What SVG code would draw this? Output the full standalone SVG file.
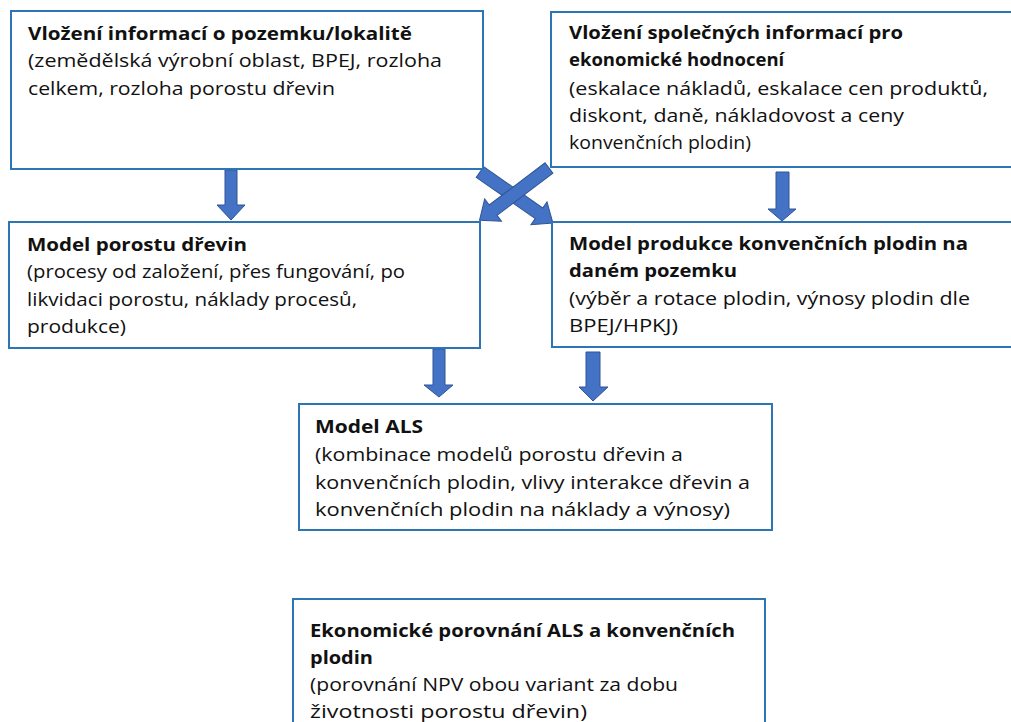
<svg xmlns="http://www.w3.org/2000/svg" width="1011" height="722" viewBox="0 0 1011 722">
<defs>
<style>
.box{fill:#ffffff;stroke:#2E75B6;stroke-width:2}
.arr{fill:#4472C4;stroke:#2F5597;stroke-width:1}
text{font-family:"Open Sans","Noto Sans","Liberation Sans",sans-serif;font-size:18.5px;fill:#111111}
.b{font-weight:700}
</style>
</defs>
<rect width="1011" height="722" fill="#ffffff"/>

<g id="connectors">
<polygon class="arr" points="225,170 237,170 237,205 245,205 231,220 217,205 225,205"/>
<polygon class="arr" points="776,172 789,172 789,209 796,209 782,221 768,209 776,209"/>
<polygon class="arr" points="433,349 445,349 445,385 453,385 439,397 424,385 433,385"/>
<polygon class="arr" points="586,352 600,352 600,387 608,387 593,401 579,387 586,387"/>
<polygon class="arr" transform="translate(480,172) rotate(-55)" points="-6.5,0 6.5,0 6.5,72 14,72 0,89 -14,72 -6.5,72"/>
<polygon class="arr" transform="translate(549,168) rotate(53)" points="-6.5,0 6.5,0 6.5,70 14,70 0,87 -14,70 -6.5,70"/>
</g>

<g id="node1">
<rect class="box" x="11" y="11" width="472" height="158"/>
<text class="b" x="28" y="40" textLength="384" lengthAdjust="spacingAndGlyphs">Vložení informací o pozemku/lokalitě</text>
<text x="28" y="67" textLength="414" lengthAdjust="spacingAndGlyphs">(zemědělská výrobní oblast, BPEJ, rozloha</text>
<text x="28" y="95" textLength="307" lengthAdjust="spacingAndGlyphs">celkem, rozloha porostu dřevin</text>
</g>

<g id="node2">
<rect class="box" x="551" y="12" width="470" height="155"/>
<text class="b" x="569" y="39" textLength="334" lengthAdjust="spacingAndGlyphs">Vložení společných informací pro</text>
<text class="b" x="569" y="66">ekonomické hodnocení</text>
<text x="569" y="95" textLength="419" lengthAdjust="spacingAndGlyphs">(eskalace nákladů, eskalace cen produktů,</text>
<text x="569" y="122" textLength="335" lengthAdjust="spacingAndGlyphs">diskont, daně, nákladovost a ceny</text>
<text x="569" y="149" textLength="182" lengthAdjust="spacingAndGlyphs">konvenčních plodin)</text>
</g>

<g id="node3">
<rect class="box" x="9" y="222" width="471" height="126"/>
<text class="b" x="27" y="251" textLength="220" lengthAdjust="spacingAndGlyphs">Model porostu dřevin</text>
<text x="27" y="278" textLength="378" lengthAdjust="spacingAndGlyphs">(procesy od založení, přes fungování, po</text>
<text x="27" y="306" textLength="330" lengthAdjust="spacingAndGlyphs">likvidaci porostu, náklady procesů,</text>
<text x="27" y="333" textLength="99" lengthAdjust="spacingAndGlyphs">produkce)</text>
</g>

<g id="node4">
<rect class="box" x="552" y="222" width="470" height="125"/>
<text class="b" x="569" y="250" textLength="399" lengthAdjust="spacingAndGlyphs">Model produkce konvenčních plodin na</text>
<text class="b" x="569" y="277" textLength="168" lengthAdjust="spacingAndGlyphs">daném pozemku</text>
<text x="569" y="305" textLength="401" lengthAdjust="spacingAndGlyphs">(výběr a rotace plodin, výnosy plodin dle</text>
<text x="569" y="332" textLength="109" lengthAdjust="spacingAndGlyphs">BPEJ/HPKJ)</text>
</g>

<g id="node5">
<rect class="box" x="299" y="404" width="473" height="126"/>
<text class="b" x="315" y="433" textLength="108" lengthAdjust="spacingAndGlyphs">Model ALS</text>
<text x="315" y="461" textLength="368" lengthAdjust="spacingAndGlyphs">(kombinace modelů porostu dřevin a</text>
<text x="315" y="489" textLength="435" lengthAdjust="spacingAndGlyphs">konvenčních plodin, vlivy interakce dřevin a</text>
<text x="315" y="516" textLength="415" lengthAdjust="spacingAndGlyphs">konvenčních plodin na náklady a výnosy)</text>
</g>

<g id="node6">
<rect class="box" x="293" y="599" width="472" height="140"/>
<text class="b" x="310" y="637" textLength="425" lengthAdjust="spacingAndGlyphs">Ekonomické porovnání ALS a konvenčních</text>
<text class="b" x="310" y="664" textLength="63" lengthAdjust="spacingAndGlyphs">plodin</text>
<text x="310" y="691" textLength="368" lengthAdjust="spacingAndGlyphs">(porovnání NPV obou variant za dobu</text>
<text x="310" y="718" textLength="277" lengthAdjust="spacingAndGlyphs">životnosti porostu dřevin)</text>
</g>
</svg>
